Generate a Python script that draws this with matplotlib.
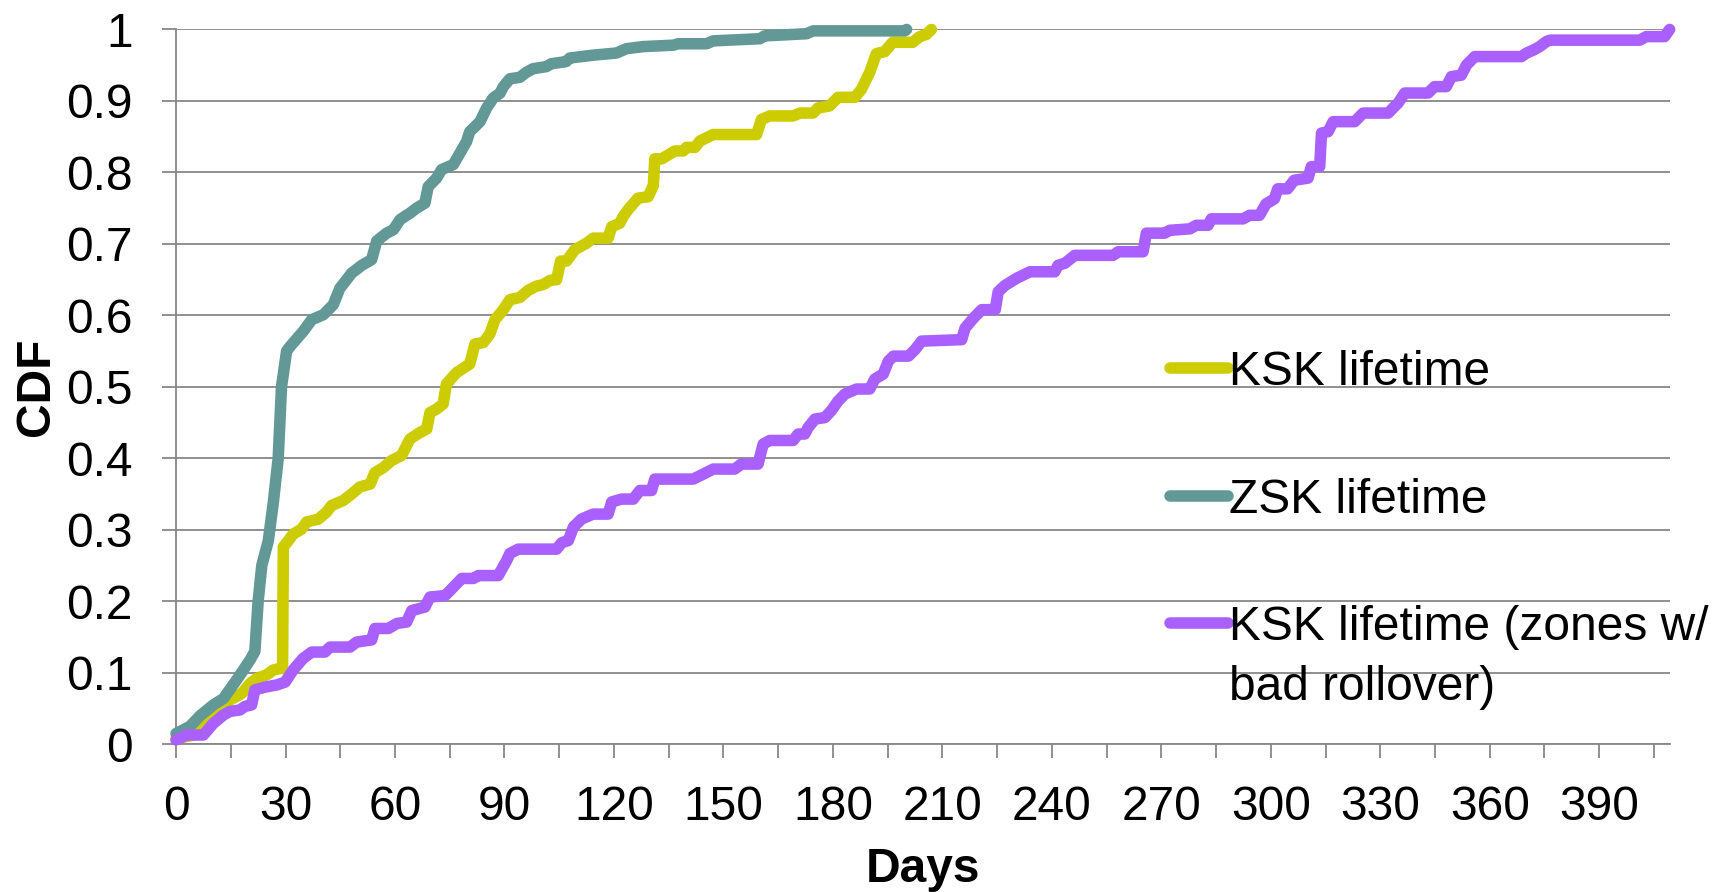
import matplotlib
matplotlib.use("Agg")
import matplotlib.pyplot as plt
from matplotlib.ticker import FixedLocator

plt.rcParams['font.family'] = ['Liberation Sans', 'DejaVu Sans']

# ---- data ----
ksk_days = [0, 5, 8.4, 11.1, 14.8, 18, 20.3, 22.1, 24.8, 26.7, 28.5, 29.2, 29.4, 30.8, 32.1,
            34.4, 35.8, 39, 41.3, 42.6, 45.8, 48.1, 50.4, 53.2, 54.5, 56.8, 59.1, 61.8, 64.1,
            66.8, 68.7, 69.6, 71.4, 73.2, 74.1, 76.9, 80.5, 81.9, 84.2, 86, 87.4, 89.7, 91.5,
            94.2, 96.5, 98.8, 100.6, 102.5, 104.3, 105.4, 107, 109.3, 112.5, 114.3, 118.4,
            119.4, 121.6, 122.5, 123.9, 126.6, 129.4, 130.8, 131.2, 133.1, 136.7, 139, 139.9,
            142.2, 143.6, 147.2, 159.1, 160.4, 162.7, 169.1, 171, 174.6, 175.9, 179.1, 181.4,
            186, 187.8, 190.1, 191.9, 194.2, 196.4, 201.9, 203.8, 205.6, 207]
ksk_cdf = [0.008, 0.013, 0.034, 0.05, 0.062, 0.071, 0.085, 0.092, 0.097, 0.104, 0.106, 0.106,
           0.276, 0.285, 0.294, 0.301, 0.311, 0.315, 0.325, 0.334, 0.341, 0.35, 0.36, 0.364,
           0.38, 0.387, 0.397, 0.404, 0.427, 0.436, 0.441, 0.464, 0.469, 0.476, 0.504, 0.52,
           0.532, 0.56, 0.562, 0.574, 0.594, 0.608, 0.622, 0.625, 0.635, 0.641, 0.643, 0.649,
           0.65, 0.676, 0.676, 0.692, 0.701, 0.708, 0.708, 0.724, 0.729, 0.738, 0.748, 0.764,
           0.766, 0.782, 0.819, 0.819, 0.83, 0.83, 0.835, 0.835, 0.844, 0.853, 0.853, 0.874,
           0.879, 0.879, 0.883, 0.883, 0.89, 0.893, 0.905, 0.905, 0.916, 0.94, 0.966, 0.969,
           0.982, 0.982, 0.99, 0.993, 1.0]

zsk_days = [0, 3.8, 6.6, 10.2, 13, 16.6, 20.3, 21.6, 22.5, 23.5, 25.3, 26.7, 28, 28.9, 30.3,
            31.5, 34.9, 37.2, 40.4, 43.1, 44.9, 46.3, 48.1, 50.9, 53.6, 55, 57.7, 59.6, 61.4,
            64.1, 65.9, 68.2, 69.1, 71.4, 72.8, 76, 77.8, 79.6, 80.5, 83.3, 85.1, 86.9, 88.8,
            89.7, 91.5, 94.2, 96, 97.8, 101.5, 102.8, 106.9, 107.9, 114.3, 120.7, 123.4, 128,
            136.3, 137.6, 145.4, 147.2, 160, 161.3, 172.8, 174.6, 199.7, 200.2]
zsk_cdf = [0.015, 0.025, 0.04, 0.055, 0.064, 0.09, 0.118, 0.13, 0.2, 0.25, 0.285, 0.34, 0.40,
           0.5, 0.55, 0.558, 0.578, 0.594, 0.601, 0.615, 0.638, 0.647, 0.659, 0.670, 0.678,
           0.704, 0.715, 0.72, 0.734, 0.743, 0.75, 0.757, 0.78, 0.792, 0.804, 0.811, 0.827,
           0.843, 0.857, 0.871, 0.89, 0.904, 0.911, 0.92, 0.931, 0.933, 0.94, 0.945, 0.948,
           0.952, 0.955, 0.960, 0.964, 0.967, 0.973, 0.976, 0.978, 0.98, 0.98, 0.984, 0.987,
           0.991, 0.994, 0.998, 0.998, 1.0]

bad_days = [0, 2.9, 7.5, 10.2, 13, 14.8, 17.5, 18.9, 20.7, 21.6, 24.4, 27.6, 29.9, 32.1, 34.8,
            37.2, 40.8, 42.2, 47.7, 49.5, 53.6, 54.5, 58.2, 60.5, 63.2, 64.6, 68.2, 69.6, 73.7,
            75.1, 78.3, 81.5, 82.8, 88.3, 90.6, 91.5, 93.8, 104.3, 105.7, 107.5, 108.9, 111.1,
            114.3, 118.4, 119.4, 122.1, 125.3, 127.1, 130.3, 131.2, 141.7, 144.5, 147.2, 153.1,
            154.9, 159.5, 160.9, 162.7, 169.1, 170.5, 172.3, 173.2, 175.1, 177.8, 179.6, 181.4,
            183.3, 186.5, 190.1, 191.5, 193.8, 195.2, 196.6, 200.7, 202.5, 204.3, 215.3, 216.2,
            218.5, 220.8, 224.5, 225.3, 227.2, 230.4, 234, 240.8, 241.7, 243.6, 246.3, 256.8,
            258.2, 265, 265.9, 270.9, 272.3, 277.8, 279.6, 282.8, 283.7, 292.4, 294.2, 296.9,
            298.7, 301, 301.9, 304.6, 306.4, 310.2, 311.1, 313.4, 313.9, 315.7, 317.1, 323,
            325.3, 332.2, 333.5, 334.9, 336.7, 343.1, 344.9, 348.1, 349.5, 352.2, 353.6, 355.9,
            368.7, 370.1, 371.9, 373.7, 375.5, 376.5, 401.1, 402.9, 407.9, 409.3]
bad_cdf = [0.006, 0.013, 0.013, 0.029, 0.041, 0.046, 0.048, 0.053, 0.055, 0.076, 0.08, 0.083,
           0.087, 0.104, 0.12, 0.129, 0.129, 0.136, 0.136, 0.143, 0.146, 0.162, 0.162, 0.169,
           0.171, 0.187, 0.192, 0.206, 0.208, 0.215, 0.232, 0.232, 0.236, 0.236, 0.257, 0.267,
           0.273, 0.273, 0.282, 0.285, 0.304, 0.315, 0.322, 0.322, 0.339, 0.343, 0.343, 0.355,
           0.355, 0.371, 0.371, 0.378, 0.385, 0.385, 0.392, 0.392, 0.42, 0.425, 0.425, 0.434,
           0.434, 0.443, 0.455, 0.457, 0.467, 0.48, 0.49, 0.497, 0.497, 0.511, 0.518, 0.536,
           0.543, 0.543, 0.552, 0.564, 0.566, 0.582, 0.596, 0.608, 0.608, 0.633, 0.642, 0.652,
           0.661, 0.661, 0.670, 0.673, 0.684, 0.684, 0.689, 0.689, 0.715, 0.715, 0.719, 0.721,
           0.726, 0.726, 0.735, 0.735, 0.74, 0.74, 0.756, 0.763, 0.777, 0.777, 0.789, 0.792,
           0.808, 0.808, 0.855, 0.857, 0.871, 0.871, 0.883, 0.883, 0.89, 0.897, 0.911, 0.911,
           0.92, 0.92, 0.934, 0.936, 0.95, 0.962, 0.962, 0.967, 0.971, 0.976, 0.983, 0.985,
           0.985, 0.99, 0.99, 1.0]

series_labels = ["KSK lifetime", "ZSK lifetime", "KSK lifetime (zones w/\nbad rollover)"]
series_colors = ["#CCCC00", "#629896", "#AA5FFF"]
x_tick_labels = [str(v) for v in range(0, 391, 30)]
y_tick_labels = ["0", "0.1", "0.2", "0.3", "0.4", "0.5", "0.6", "0.7", "0.8", "0.9", "1"]

# ---- figure ----
fig = plt.figure(figsize=(17.19, 8.92), dpi=100)
ax = fig.add_axes([0.1024, 0.1656, 0.8691, 0.8014])

grid_c = "#878787"
lw = 8.3
fs = 34.5
series = [(ksk_days, ksk_cdf), (zsk_days, zsk_cdf), (bad_days, bad_cdf)]
for (xd, yd), col in zip(series, series_colors):
    ax.plot(xd, yd, color=col, lw=lw, solid_joinstyle='round', solid_capstyle='round',
            clip_on=False, zorder=3)

ax.set_xlim(0, 409.4)
ax.set_ylim(0, 1)

ax.xaxis.set_major_locator(FixedLocator(list(range(0, 391, 30))))
ax.set_xticklabels(x_tick_labels)
ax.xaxis.set_minor_locator(FixedLocator(list(range(15, 409, 30))))
ax.yaxis.set_major_locator(FixedLocator([i / 10 for i in range(11)]))
ax.set_yticklabels(y_tick_labels)

ax.tick_params(axis='both', which='both', direction='out', length=10, width=1.3,
               color=grid_c, labelsize=fs, labelcolor='black')
ax.tick_params(axis='x', which='major', pad=19)
ax.tick_params(axis='y', which='major', pad=21)

ax.grid(axis='y', color=grid_c, lw=1.3, zorder=0)
ax.set_axisbelow(True)
for s in ['top', 'right']:
    ax.spines[s].set_visible(False)
for s in ['left', 'bottom']:
    ax.spines[s].set_color(grid_c)
    ax.spines[s].set_linewidth(1.3)

ax.set_xlabel("Days", fontsize=fs, fontweight='bold')
ax.xaxis.set_label_coords(0.5, -0.143)
ax.xaxis.label.set_va('top')
ax.set_ylabel("CDF", fontsize=fs, fontweight='bold')
ax.yaxis.set_label_coords(-0.0783, 0.5)

# ---- legend (no frame, handle aligned with first text line) ----
leg_y = [0.527, 0.348, 0.170]
hx0, hx1, tx = 0.6651, 0.7040, 0.7045
for yy, lab, col in zip(leg_y, series_labels, series_colors):
    ax.plot([hx0, hx1], [yy, yy], color=col, lw=lw, solid_capstyle='round',
            transform=ax.transAxes, clip_on=False, zorder=4)
    ax.text(tx, yy + 0.0245, lab, transform=ax.transAxes, fontsize=fs, va='top',
            ha='left', linespacing=1.42, zorder=4)

fig.savefig("out.png", dpi=100)
